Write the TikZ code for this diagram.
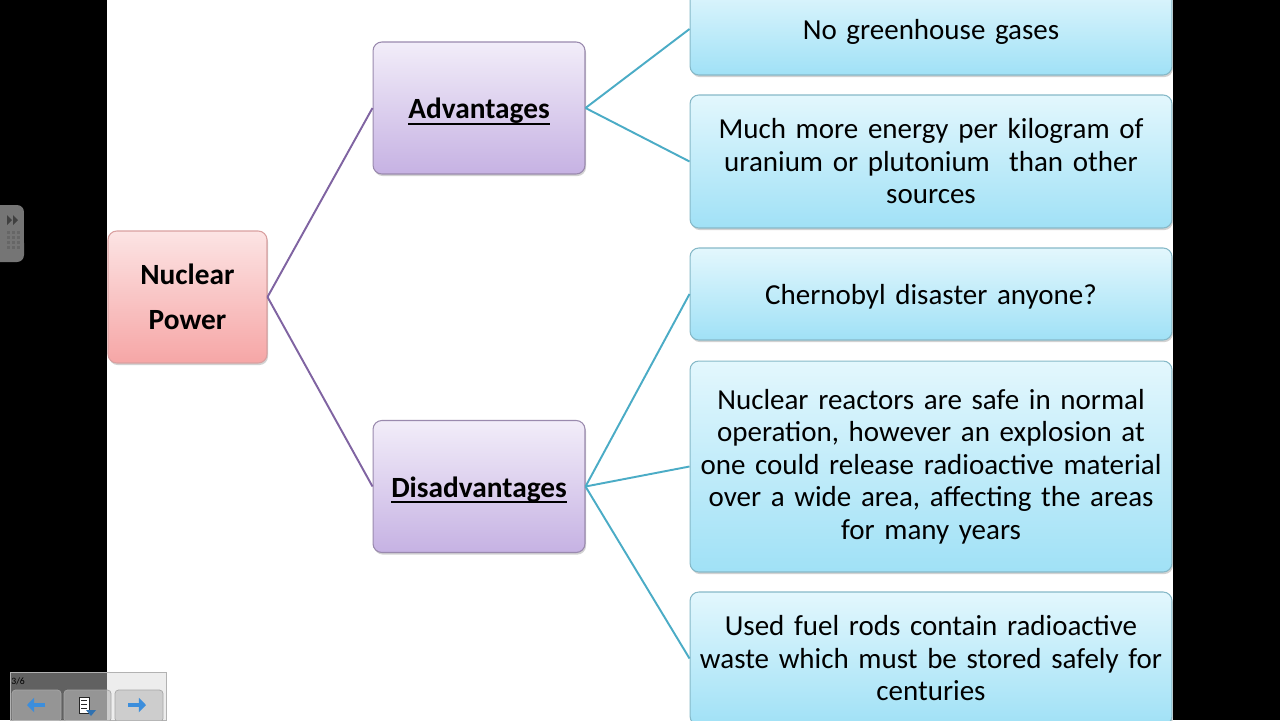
\documentclass[tikz,border=0pt]{standalone}
\usepackage{fontspec}
\setmainfont{Carlito}
\usepackage{xcolor}
\usepackage{tikz}
\usetikzlibrary{arrows.meta,positioning,shadows}
\definecolor{branchpurple}{HTML}{8064A2}
\definecolor{leafteal}{HTML}{4BACC6}
\definecolor{rootTop}{HTML}{FCE4E4}
\definecolor{rootBot}{HTML}{F6A6A6}
\definecolor{rootEdge}{HTML}{D9A0A0}
\definecolor{midTop}{HTML}{F2EDF9}
\definecolor{midBot}{HTML}{C6B2E3}
\definecolor{midEdge}{HTML}{9A8AAE}
\definecolor{leafTop}{HTML}{E3F7FD}
\definecolor{leafBot}{HTML}{A0E1F6}
\definecolor{leafEdge}{HTML}{86B9C8}
\definecolor{navblue}{HTML}{3C8EDC}
\newcommand{\headline}[1]{\setbox0\hbox{#1}\rlap{\smash{\rule[-3.4pt]{\wd0}{1.1pt}}}\box0}
\tikzset{
    softshadow/.style={drop shadow={opacity=0.35, shadow xshift=0.6pt, shadow yshift=-1.2pt}},
    rootbox/.style={rectangle, rounded corners=5pt, draw=rootEdge, line width=0.6pt,
        top color=rootTop, bottom color=rootBot, softshadow,
        minimum width=3.18cm, minimum height=2.64cm, align=center,
        font=\bfseries\fontsize{16.7}{25.6}\selectfont},
    midbox/.style={rectangle, rounded corners=5pt, draw=midEdge, line width=0.6pt,
        top color=midTop, bottom color=midBot, softshadow,
        minimum width=4.24cm, minimum height=2.64cm, align=center,
        text height=15pt, text depth=3pt,
        font=\bfseries\fontsize{16.7}{20}\selectfont},
    leafbox/.style={rectangle, rounded corners=5pt, draw=leafEdge, line width=0.6pt,
        top color=leafTop, bottom color=leafBot, softshadow,
        minimum width=9.64cm, text width=9.3cm, align=center,
        font=\fontsize{16.5}{18.5}\selectfont},
    oneline/.style={text height=14pt, text depth=2.5pt},
    trunk/.style={draw=branchpurple, line width=1.1pt},
    twig/.style={draw=leafteal, line width=1.1pt},
    navbtn/.style={fill=gray!55, fill opacity=0.6, draw=gray!70, rounded corners=2pt}
}
\begin{document}
\begin{tikzpicture}[x=0.02cm, y=-0.02cm]
    \useasboundingbox (0,0) rectangle (1280,720);
    \fill[white] (0,0) rectangle (1280,720);

    % tree
    \node[rootbox] (root) at (187.5,297) {Nuclear\\Power};
    \node[midbox] (adv) at (479,108) {\headline{Advantages}};
    \node[midbox] (dis) at (479,486.5) {\headline{Disadvantages}};

    \node[leafbox, oneline, minimum height=1.84cm] (noghg) at (931,29) {No greenhouse gases};
    \node[leafbox, minimum height=2.66cm] (energy) at (931,161.5)
        {Much more energy per kilogram of\\uranium or plutonium\ \ than other\\sources};
    \node[leafbox, oneline, minimum height=1.84cm] (chern) at (931,294) {Chernobyl disaster anyone?};
    \node[leafbox, minimum height=4.22cm] (safe) at (931,466.5)
        {Nuclear reactors are safe in normal\\operation, however an explosion at\\one could release radioactive material\\over a wide area, affecting the areas\\for many years};
    \node[leafbox, minimum height=2.66cm] (waste) at (931,658.5)
        {Used fuel rods contain radioactive\\waste which must be stored safely for\\centuries};

    \draw[trunk] (root.east) -- (adv.west);
    \draw[trunk] (root.east) -- (dis.west);
    \draw[twig] (adv.east) -- (noghg.west);
    \draw[twig] (adv.east) -- (energy.west);
    \draw[twig] (dis.east) -- (chern.west);
    \draw[twig] (dis.east) -- (safe.west);
    \draw[twig] (dis.east) -- (waste.west);

    % black side bars
    \fill[black] (0,0) rectangle (107,720);
    \fill[black] (1173,0) rectangle (1280,720);

    % side tab
    \fill[gray!65!black!80] (0,205) -- (17,205) arc[start angle=90, end angle=0, radius=0.14cm]
        -- (24,255) arc[start angle=0, end angle=-90, radius=0.14cm] -- (0,262) -- cycle;
    \fill[black!75] (7,215) -- (12,220) -- (7,225) -- cycle;
    \fill[black!75] (13,215) -- (18,220) -- (13,225) -- cycle;
    \foreach \i in {0,1,2} {
        \foreach \j in {0,1,2,3} {
            \fill[black!60] (7+5*\i,231+5*\j) rectangle +(3,3);
        }
    }

    % slide navigator
    \fill[fill=gray!30, fill opacity=0.45, draw=gray!60] (10,672) rectangle (166,720);
    \node[font=\fontsize{5.5}{6}\selectfont, anchor=west, inner sep=0pt] (count) at (11,681) {3/6};
    \draw[navbtn] (12,690) rectangle (61,722);
    \draw[navbtn] (64,690) rectangle (111,722);
    \draw[navbtn] (115,690) rectangle (163,722);
    \draw[navblue, line width=2.5pt, -{Triangle[length=4pt,width=8pt]}] (45,705) -- (27,705);
    \draw[navblue, line width=2.5pt, -{Triangle[length=4pt,width=8pt]}] (128,705) -- (146,705);
    \draw[gray!30!black, fill=white] (79,697) rectangle (89,713);
    \foreach \k in {700,704,708} {
        \draw[gray!30!black, line width=0.4pt] (81,\k) -- (87,\k);
    }
    \fill[navblue!80!black] (86,710) -- (96,710) -- (91,716) -- cycle;
\end{tikzpicture}
\end{document}
